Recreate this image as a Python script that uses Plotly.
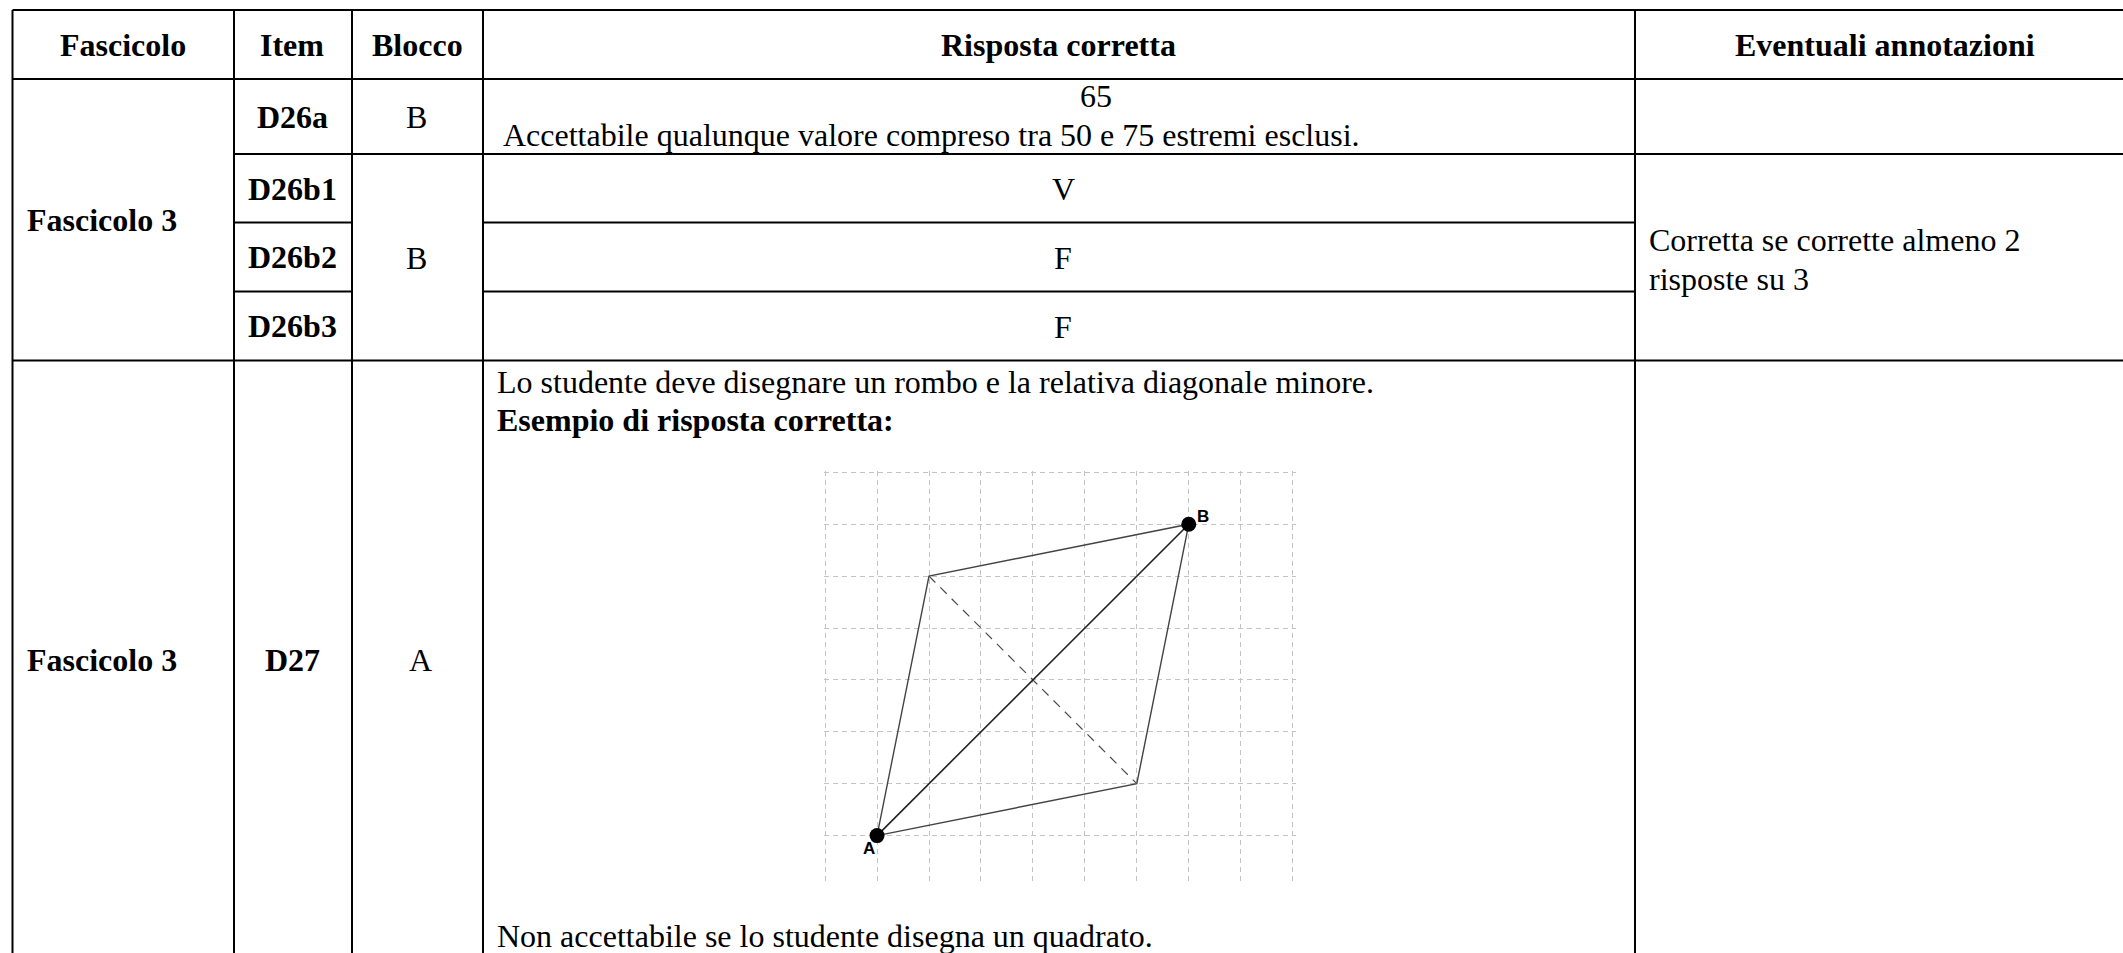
import plotly.graph_objects as go

# ---- content ----
headers = ["Fascicolo", "Item", "Blocco", "Risposta corretta", "Eventuali annotazioni"]
booklets = ["Fascicolo 3", "Fascicolo 3"]
items = ["D26a", "D26b1", "D26b2", "D26b3", "D27"]
blocks = ["B", "B", "A"]
answers = ["V", "F", "F"]
answer_value = "65"
accept_note = "Accettabile qualunque valore compreso tra 50 e 75 estremi esclusi."
annotation_lines = ["Corretta se corrette almeno 2", "risposte su 3"]
d27_line1 = "Lo studente deve disegnare un rombo e la relativa diagonale minore."
d27_line2 = "Esempio di risposta corretta:"
d27_line3 = "Non accettabile se lo studente disegna un quadrato."

# rhombus, in grid cells (y counted downward)
point_labels = ["A", "B"]
point_x = [1, 7]
point_y = [7, 1]
side_x = [1, 2, 7, 6, 1]
side_y = [7, 2, 1, 6, 7]
minor_diag_x = [2, 6]
minor_diag_y = [2, 6]

# ---- layout geometry (page pixels) ----
W, H = 2123, 953
SERIF = "Liberation Serif"
FS = 32
col_x = [12.5, 234, 352, 483, 1635]
row_y = [10, 79, 154, 222.5, 291.5, 360.5]

# (x0, x1, y) horizontal rules, (x, y0, y1) vertical rules
h_rules = [
    (col_x[0], W, row_y[0]), (col_x[0], W, row_y[1]),
    (col_x[1], W, row_y[2]),
    (col_x[1], col_x[2], row_y[3]), (col_x[3], col_x[4], row_y[3]),
    (col_x[1], col_x[2], row_y[4]), (col_x[3], col_x[4], row_y[4]),
    (col_x[0], W, row_y[5]),
]
v_rules = [(x, row_y[0], H) for x in col_x]

GX0, GDX = 825.1, 51.95
GY0, GDY = 472.3, 51.9
GL, GR, GT, GB = 824, 1296, 471, 883

fig = go.Figure()

# grid drawing on its own axes
fig.add_trace(go.Scatter(x=side_x, y=side_y, mode="lines", xaxis="x2", yaxis="y2",
                         line=dict(color="#444444", width=1.4), hoverinfo="skip"))
fig.add_trace(go.Scatter(x=minor_diag_x, y=minor_diag_y, mode="lines", xaxis="x2", yaxis="y2",
                         line=dict(color="#4a4a4a", width=1.2, dash="9px,7px"), hoverinfo="skip"))
fig.add_trace(go.Scatter(x=point_x, y=point_y, mode="lines+markers", xaxis="x2", yaxis="y2",
                         line=dict(color="#222222", width=1.6),
                         marker=dict(color="black", size=15), hoverinfo="skip"))

shapes = []
for x0, x1, y in h_rules:
    shapes.append(dict(type="line", xref="x", yref="y", x0=x0, x1=x1, y0=y, y1=y,
                       line=dict(color="black", width=2)))
for x, y0, y1 in v_rules:
    shapes.append(dict(type="line", xref="x", yref="y", x0=x, x1=x, y0=y0, y1=y1,
                       line=dict(color="black", width=2)))

def txt(x, y, s, bold=False, anchor="center", family=SERIF, size=FS):
    return dict(x=x, y=y, xref="x", yref="y", text=f"<b>{s}</b>" if bold else s, showarrow=False,
                xanchor=anchor, yanchor="middle", font=dict(family=family, size=size, color="black"))

ann = []
head_x = [123, 292, 417, 1058, 1885]
for x, s in zip(head_x, headers):
    ann.append(txt(x, 45, s, bold=True))
ann.append(txt(24.5, 220, booklets[0], bold=True, anchor="left"))
ann.append(txt(24.5, 660, booklets[1], bold=True, anchor="left"))
for y, s in zip([117, 189, 257, 326, 660], items):
    ann.append(txt(292, y, s, bold=True))
for x, y, s in zip([416, 416, 420], [117, 258, 660], blocks):
    ann.append(txt(x, y, s))
ann.append(txt(1096, 96, answer_value))
ann.append(txt(501, 135, accept_note, anchor="left"))
for y, s in zip([189, 258, 327], answers):
    ann.append(txt(1063, y, s))
for y, s in zip([240, 279], annotation_lines):
    ann.append(txt(1647, y, s, anchor="left"))
ann.append(txt(494.5, 382, d27_line1, anchor="left"))
ann.append(txt(494.5, 420, d27_line2, bold=True, anchor="left"))
ann.append(txt(494.5, 936, d27_line3, anchor="left"))
ann.append(dict(x=point_x[0], y=point_y[0], xref="x2", yref="y2", text=f"<b>{point_labels[0]}</b>", showarrow=False,
                xshift=-8, yshift=-13, font=dict(family="Liberation Sans", size=17, color="black")))
ann.append(dict(x=point_x[1], y=point_y[1], xref="x2", yref="y2", text=f"<b>{point_labels[1]}</b>", showarrow=False,
                xshift=14, yshift=8, font=dict(family="Liberation Sans", size=17, color="black")))

hidden = dict(visible=False, showgrid=False, zeroline=False)
grid = dict(showgrid=True, griddash="5px,4px", gridcolor="#c4c4c4", gridwidth=1, dtick=1, tick0=0,
            zeroline=False, showticklabels=False, ticks="", showline=False, layer="below traces")
fig.update_layout(
    width=W, height=H, margin=dict(l=0, r=0, t=0, b=0), showlegend=False,
    paper_bgcolor="white", plot_bgcolor="rgba(0,0,0,0)",
    xaxis=dict(range=[0, W], domain=[0, 1], **hidden),
    yaxis=dict(range=[H, 0], domain=[0, 1], **hidden),
    xaxis2=dict(domain=[GL / W, GR / W], anchor="y2",
                range=[(GL - GX0) / GDX, (GR - GX0) / GDX], **grid),
    yaxis2=dict(domain=[1 - GB / H, 1 - GT / H], anchor="x2",
                range=[(GB - GY0) / GDY, (GT - GY0) / GDY], **grid),
    shapes=shapes, annotations=ann,
)
fig.write_html("out.html", config=dict(displayModeBar=False),
               post_script="document.body.style.margin='0';document.body.style.overflow='hidden';")
